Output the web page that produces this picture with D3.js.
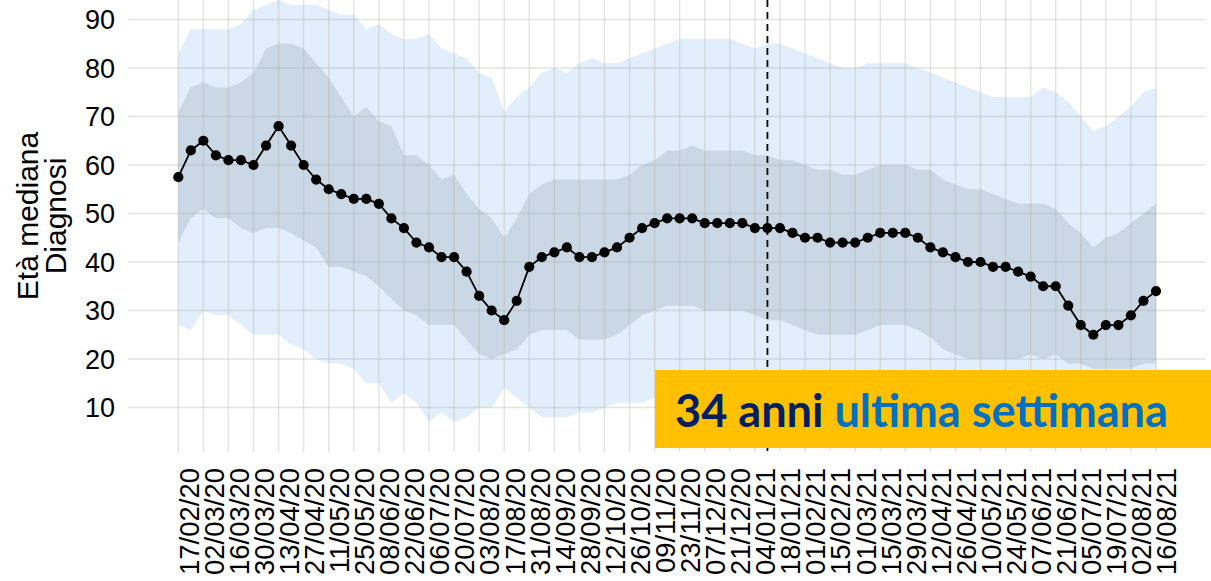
<!DOCTYPE html>
<html>
<head>
<meta charset="utf-8">
<script src="https://cdn.jsdelivr.net/npm/d3@7"></script>
<style>
  body { margin: 0; background: #fff; }
  svg { display: block; }
</style>
</head>
<body>
<div class="vis"></div>
<script>
// settimane (lunedì) dal 17/02/20 al 16/08/21
const firstWeek = "17/02/20";
const nWeeks = 79;
const xTickLabels = ["17/02/20","02/03/20","16/03/20","30/03/20","13/04/20","27/04/20","11/05/20","25/05/20",
  "08/06/20","22/06/20","06/07/20","20/07/20","03/08/20","17/08/20","31/08/20","14/09/20","28/09/20",
  "12/10/20","26/10/20","09/11/20","23/11/20","07/12/20","21/12/20","04/01/21","18/01/21","01/02/21",
  "15/02/21","01/03/21","15/03/21","29/03/21","12/04/21","26/04/21","10/05/21","24/05/21","07/06/21",
  "21/06/21","05/07/21","19/07/21","02/08/21","16/08/21"];
const yTicks = [10, 20, 30, 40, 50, 60, 70, 80, 90];
const vLineDate = "11/01/21";

// età mediana
const median = [57.5,63,65,62,61,61,60,64,68,64, 60,57,55,54,53,53,52,49,47,44,
  43,41,41,38,33,30,28,32,39,41, 42,43,41,41,42,43,45,47,48,49,
  49,49,48,48,48,48,47,47,47,46, 45,45,44,44,44,45,46,46,46,45,
  43,42,41,40,40,39,39,38,37,35, 35,31,27,25,27,27,29,32,34];
// quartili (banda scura)
const q3 = [71,76,77,76,76,77,79,84,85,85, 84,81,78,74,70,72,69,68,62,62,
  60,57,58,54,51,49,45,49,54,56, 57,57,57,57,57,57,58,60,61,63,
  63,64,63,63,63,63,62,62,61,61, 60,59,59,58,58,59,60,60,60,59,
  59,57,56,55,55,54,53,52,52,52, 51,48,46,43,45,46,48,50,52];
const q1 = [44,49,51,49,49,47,46,47,47,46, 44.5,43,39,39,38,37,35,32.5,30,29,
  27,27,27,24,21,20,21,22,25,26, 26,26,24,24,24,25,27,29,30,31,
  31,31,30,30,30,30,29,28,28,27, 26,25,25,25,25,26,27,27,27,26,
  24.5,22,21,20,20,20,20,20,21,20, 21,19,19,18,18,18,18,19,19];
// percentili estremi (banda chiara)
const p95 = [83,88,88,88,88,89,92,93,94,93, 93,93,92,91,91,88,89,87,86,86,
  87,84,83,82,79,78,71,74,76,79, 80,79,81,82,81,81,82,83,84,85,
  86,86,86,86,86,85,84,85,85,84, 83,82,81,80,80,81,81,81,81,80,
  79,78,77,76,75,74,74,74,74,76, 75,73,70,67,68,70,72,75,76];
const p5 = [27,26,30,29,29,27,25,25,25,23, 22,20,19,19,18,15,15,11,13,11,
  7,9,7,8,10,10,14,12,10,8, 8,8,9,9,10,11,11,11,12,12,
  12,13,13,13,13,12,12,12,12,12, 11,11,11,11,12,12,12,12,12,11,
  10,10,9,9,9,9,9,9,9,8, 8,8,8,8,8,9,9,10,10];

const W = 1211, H = 581;
const parse = d3.timeParse("%d/%m/%y");
const fmt = d3.timeFormat("%d/%m/%y");
const start = parse(firstWeek);
const weeks = d3.range(nWeeks).map(i => d3.timeDay.offset(start, i * 7));
const data = weeks.map((d, i) => ({ date: d, med: median[i], q1: q1[i], q3: q3[i], lo: p5[i], hi: p95[i] }));

const panel = { left: 128, right: 1205, top: 0, bottom: 452 };

const x = d3.scaleTime()
  .domain([weeks[0], weeks[weeks.length - 1]])
  .range([178.3, 1156]);
const y = d3.scaleLinear()
  .domain([10, 90])
  .range([407.5, 19.5]);

const svg = d3.select(".vis").append("svg")
  .attr("width", W)
  .attr("height", H);

// griglia
const grid = svg.append("g");
grid.selectAll("line.h")
  .data(yTicks).enter().append("line")
  .attr("class", "h")
  .attr("x1", panel.left).attr("x2", panel.right)
  .attr("y1", d => y(d)).attr("y2", d => y(d));
grid.selectAll("line.v")
  .data(xTickLabels.map(parse)).enter().append("line")
  .attr("class", "v")
  .attr("x1", d => x(d)).attr("x2", d => x(d))
  .attr("y1", panel.top).attr("y2", panel.bottom);

// bande
const bandOuter = d3.area().x(d => x(d.date)).y0(d => y(d.lo)).y1(d => y(d.hi));
const bandInner = d3.area().x(d => x(d.date)).y0(d => y(d.q1)).y1(d => y(d.q3));
svg.append("path").datum(data)
  .attr("d", bandOuter)
  .attr("fill", "rgb(160,200,242)")
  .attr("fill-opacity", 0.3);
svg.append("path").datum(data)
  .attr("d", bandInner)
  .attr("fill", "rgb(110,125,140)")
  .attr("fill-opacity", 0.2);

grid.raise();
grid.selectAll("line")
  .attr("stroke", "rgb(175,175,165)")
  .attr("stroke-opacity", 0.35)
  .attr("stroke-width", 1.4);

// linea tratteggiata
svg.append("line")
  .attr("x1", x(parse(vLineDate))).attr("x2", x(parse(vLineDate)))
  .attr("y1", panel.top).attr("y2", panel.bottom)
  .attr("stroke", "#000")
  .attr("stroke-width", 1.8)
  .attr("stroke-dasharray", "7,5");

// mediana
svg.append("path").datum(data)
  .attr("d", d3.line().x(d => x(d.date)).y(d => y(d.med)))
  .attr("fill", "none")
  .attr("stroke", "#000")
  .attr("stroke-width", 1.8);
svg.append("g").selectAll("circle")
  .data(data).enter().append("circle")
  .attr("cx", d => x(d.date))
  .attr("cy", d => y(d.med))
  .attr("r", 5.1)
  .attr("fill", "#000");

// assi
const tickFont = "'Liberation Sans', Arial, sans-serif";
svg.append("g").selectAll("text")
  .data(yTicks).enter().append("text")
  .attr("x", 115)
  .attr("y", d => y(d))
  .attr("dy", "0.36em")
  .attr("text-anchor", "end")
  .attr("font-family", tickFont)
  .attr("font-size", 27)
  .attr("fill", "#000")
  .text(d => d);

svg.append("g").selectAll("text")
  .data(xTickLabels).enter().append("text")
  .attr("transform", d => "translate(" + x(parse(d)) + ",468) rotate(-90)")
  .attr("dy", "0.74em")
  .attr("text-anchor", "end")
  .attr("font-family", tickFont)
  .attr("font-size", 27.5)
  .attr("fill", "#000")
  .text(d => fmt(parse(d)));

const yTitle = svg.append("text")
  .attr("transform", "translate(38,216) rotate(-90)")
  .attr("text-anchor", "middle")
  .attr("font-family", tickFont)
  .attr("font-size", 30)
  .attr("fill", "#000");
yTitle.append("tspan").attr("x", 0).attr("y", 0).text("Età mediana");
yTitle.append("tspan").attr("x", 0).attr("y", 28).text("Diagnosi");

// riquadro giallo
svg.append("rect")
  .attr("x", 655).attr("y", 370)
  .attr("width", W - 655).attr("height", 78)
  .attr("fill", "#FFC000");
const label = svg.append("text")
  .attr("x", 675).attr("y", 427)
  .attr("font-family", "Lato, 'Open Sans', sans-serif")
  .attr("font-weight", "bold")
  .attr("font-size", 42);
label.append("tspan").attr("fill", "#002060").text(median[median.length - 1] + " anni ");
label.append("tspan").attr("fill", "#0070C0").text("ultima settimana");
const w0 = label.node().getComputedTextLength();
label.attr("font-size", 42 * 493 / w0);
</script>
</body>
</html>
